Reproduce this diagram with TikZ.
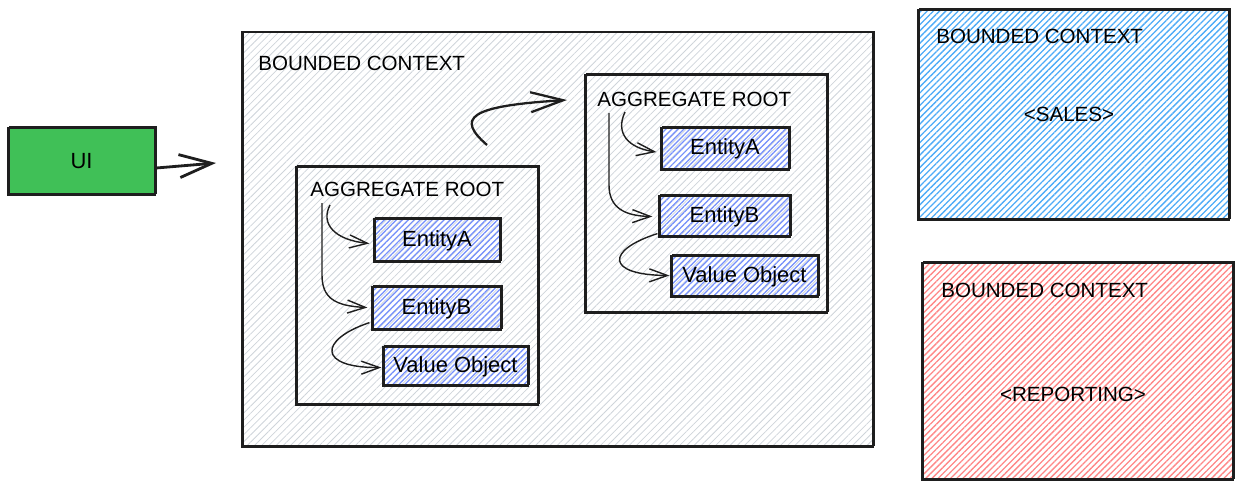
\documentclass[tikz,border=0pt]{standalone}
\usepackage{fontspec}
\setmainfont{Liberation Sans}
\usetikzlibrary{arrows.meta,patterns.meta,calc}
\definecolor{uigreen}{HTML}{40C057}
\definecolor{hgray}{HTML}{CED4DA}
\definecolor{hblue}{HTML}{4DABF7}
\definecolor{hred}{HTML}{FF8787}
\definecolor{hindigo}{HTML}{748FFC}
\definecolor{ink}{HTML}{1E1E1E}
\tikzset{
  capsfont/.style={font=\fontsize{11.7}{14}\selectfont},
  mixfont/.style={font=\fontsize{12.5}{15}\selectfont},
  sketch/.style={postaction={draw=ink, line width=0.35pt, transform canvas={shift={(0.6pt,0.7pt)}}}},
  box/.style={draw=ink, line width=0.8pt, inner sep=0pt, rectangle, sketch},
  ctxbox/.style={box, line width=0.9pt, pattern={Lines[angle=45,distance=2.5pt,line width=0.75pt]}, pattern color=#1},
  graybox/.style={box, line width=0.8pt, pattern={Lines[angle=45,distance=2.9pt,line width=0.45pt]}, pattern color=hgray},
  entbox/.style={box, line width=0.7pt, mixfont, pattern={Lines[angle=45,distance=2.4pt,line width=0.7pt]}, pattern color=hindigo},
  aggbox/.style={box, line width=0.7pt},
  lbl/.style={capsfont, anchor=west, inner sep=0pt},
  arr/.style={draw=ink, line width=0.8pt, -{Straight Barb[length=3.6mm,width=2.6mm]}},
  bigarr/.style={draw=ink, line width=1.6pt, -{Straight Barb[length=6.5mm,width=4.6mm]}},
  midarr/.style={draw=ink, line width=1.3pt, -{Straight Barb[length=6.5mm,width=4mm]}},
}
\begin{document}
\begin{tikzpicture}[x=0.02cm,y=-0.02cm]
\useasboundingbox (0,0) rectangle (1241,491);

% UI
\node[box, line width=1.3pt, fill=uigreen, minimum width=2.94cm, minimum height=1.34cm, mixfont] (ui) at (81.5,161.5) {UI};

% outer bounded context
\node[graybox, minimum width=12.62cm, minimum height=8.30cm] (bc) at (557.5,239.5) {};
\node[lbl] (bclbl) at (258,63) {BOUNDED CONTEXT};

% aggregate root 1
\node[aggbox, minimum width=4.84cm, minimum height=4.76cm] (ar1) at (417,286) {};
\node[lbl] (ar1lbl) at (310,189) {AGGREGATE ROOT};
\node[entbox, minimum width=2.52cm, minimum height=0.86cm] (e1a) at (437,240.5) {EntityA};
\node[entbox, minimum width=2.58cm, minimum height=0.86cm] (e1b) at (436.5,308.5) {EntityB};
\node[entbox, minimum width=2.90cm, minimum height=0.78cm] (v1) at (455.5,366.5) {Value Object};

% aggregate root 2
\node[aggbox, minimum width=4.84cm, minimum height=4.76cm] (ar2) at (706,194) {};
\node[lbl] (ar2lbl) at (597,99) {AGGREGATE ROOT};
\node[entbox, minimum width=2.56cm, minimum height=0.84cm] (e2a) at (725,149) {EntityA};
\node[entbox, minimum width=2.62cm, minimum height=0.82cm] (e2b) at (724.5,216.5) {EntityB};
\node[entbox, minimum width=2.94cm, minimum height=0.82cm] (v2) at (744.5,276.5) {Value Object};

% sales / reporting
\node[ctxbox=hblue, minimum width=6.22cm, minimum height=4.20cm] (sales) at (1073.5,115) {};
\node[lbl] (saleslbl) at (936,36) {BOUNDED CONTEXT};
\node[capsfont, inner sep=0pt] (salesname) at (1069,114) {<SALES>};

\node[ctxbox=hred, minimum width=6.22cm, minimum height=4.34cm] (rep) at (1077.5,371.5) {};
\node[lbl] (replbl) at (941,290) {BOUNDED CONTEXT};
\node[capsfont, inner sep=0pt] (repname) at (1073,394) {<REPORTING>};

% connectors
\coordinate (uiend) at (216,163);
\draw[bigarr] (ui.east |- 0,168) -- (uiend);

\coordinate (cstart) at (487,145);
\coordinate (cend) at (567,100);
\draw[midarr] (cstart) .. controls (456,118) and (468,106) .. (cend);

\coordinate (s1a) at (330,205);
\coordinate (s1b) at (322,203);
\draw[arr] (s1a) .. controls (320,224) and (335,240) .. ($(e1a.west)+(-4,3)$);
\draw[arr] (s1b) -- (322,275) .. controls (322,298) and (335,306) .. ($(e1b.west)+(-4,-1)$);
\draw[arr] ($(e1b.south west)+(-2,-8)$) .. controls (318,340) and (318,368) .. ($(v1.west)+(-1,1)$);

\coordinate (s2a) at (625,112);
\coordinate (s2b) at (609,113);
\draw[arr] (s2a) .. controls (615,133) and (628,148) .. ($(e2a.west)+(-4,3)$);
\draw[arr] (s2b) -- (609,185) .. controls (609,208) and (625,216) .. ($(e2b.west)+(-6,0)$);
\draw[arr] ($(e2b.south west)+(-1,-4)$) .. controls (606,250) and (605,275) .. ($(v2.west)+(-1,-1)$);
\end{tikzpicture}
\end{document}
